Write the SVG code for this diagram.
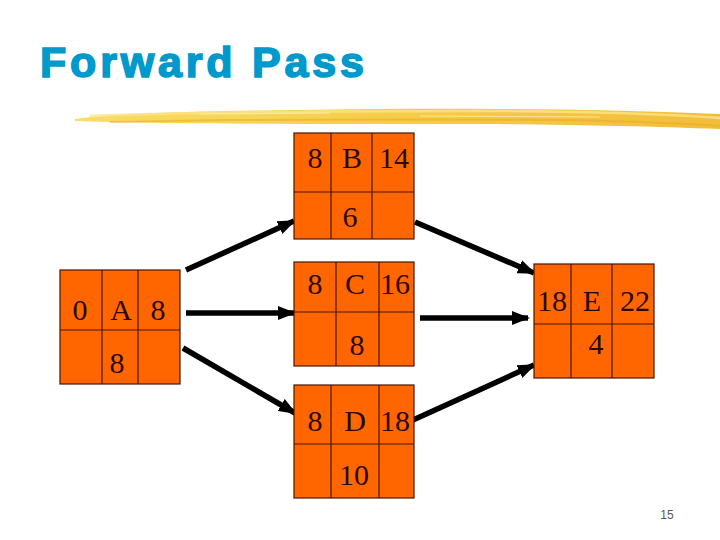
<svg xmlns="http://www.w3.org/2000/svg" width="720" height="540" viewBox="0 0 720 540">
<style>
.cell{fill:#FF6600;stroke:#4a1500;stroke-width:1.2}
.div{stroke:#4a1500;stroke-width:1.2}
.t{font-family:"Liberation Serif","Times New Roman",serif;font-size:30px;fill:#2a0800;text-anchor:middle}
.ar{stroke:#000;stroke-width:5.5;fill:none;marker-end:url(#ah)}
</style>
<defs>
<marker id="ah" markerUnits="userSpaceOnUse" viewBox="0 0 18 14" refX="16" refY="7" markerWidth="18" markerHeight="14" orient="auto">
<path d="M0,0 L18,7 L0,14 Z" fill="#000"/>
</marker>
<linearGradient id="yg" x1="0" y1="0" x2="1" y2="0">
<stop offset="0" stop-color="#F8DA5A"/>
<stop offset="0.5" stop-color="#F5C838"/>
<stop offset="1" stop-color="#F0B82A"/>
</linearGradient>
</defs>
<rect width="720" height="540" fill="#fff"/>
<text x="40" y="77" font-family="Liberation Sans,Arial,sans-serif" font-weight="bold" font-size="43" fill="#0099CC" stroke="#0099CC" stroke-width="1.6" textLength="324" lengthAdjust="spacing">Forward Pass</text>
<g id="brush">
<path d="M75,119 C120,113 200,111 300,110 C420,108 560,108 720,114 L720,129 C640,126 560,124 450,124 C300,124 150,124 75,121 Z" fill="url(#yg)" opacity="0.92"/>
<path d="M90,116 C200,112 350,111 500,111 C600,112 680,115 720,118" stroke="#FBE58A" stroke-width="2.5" fill="none" opacity="0.8"/>
<path d="M110,122 C250,119 400,119 550,120 C630,121 690,124 720,126" stroke="#E8A820" stroke-width="2" fill="none" opacity="0.5"/>
<path d="M200,114 L330,113 M420,116 L600,117" stroke="#FFF3B0" stroke-width="1.2" fill="none" opacity="0.7"/>
</g>
<g id="connectors">
<line class="ar" x1="186" y1="270" x2="294" y2="221"/>
<line class="ar" x1="186" y1="313" x2="294" y2="313"/>
<line class="ar" x1="183" y1="348" x2="295" y2="413"/>
<line class="ar" x1="415" y1="222" x2="534" y2="273"/>
<line class="ar" x1="420" y1="318" x2="528" y2="318"/>
<line class="ar" x1="413" y1="420" x2="534" y2="365"/>
</g>
<g id="nodeA">
<rect class="cell" x="60" y="270" width="120" height="114"/>
<line class="div" x1="102" y1="270" x2="102" y2="384"/>
<line class="div" x1="138" y1="270" x2="138" y2="384"/>
<line class="div" x1="60" y1="330" x2="180" y2="330"/>
<text class="t" x="80" y="320">0</text>
<text class="t" x="121" y="320">A</text>
<text class="t" x="158" y="320">8</text>
<text class="t" x="117" y="373">8</text>
</g>
<g id="nodeB">
<rect class="cell" x="294" y="133" width="120" height="106"/>
<line class="div" x1="331" y1="133" x2="331" y2="239"/>
<line class="div" x1="372" y1="133" x2="372" y2="239"/>
<line class="div" x1="294" y1="192" x2="414" y2="192"/>
<text class="t" x="315" y="168">8</text>
<text class="t" x="352" y="168">B</text>
<text class="t" x="394" y="168">14</text>
<text class="t" x="350" y="227">6</text>
</g>
<g id="nodeC">
<rect class="cell" x="294" y="262" width="120" height="104"/>
<line class="div" x1="336" y1="262" x2="336" y2="366"/>
<line class="div" x1="379" y1="262" x2="379" y2="366"/>
<line class="div" x1="294" y1="312" x2="414" y2="312"/>
<text class="t" x="315" y="294">8</text>
<text class="t" x="355" y="294">C</text>
<text class="t" x="395" y="294">16</text>
<text class="t" x="357" y="355">8</text>
</g>
<g id="nodeD">
<rect class="cell" x="294" y="385" width="120" height="113"/>
<line class="div" x1="331" y1="385" x2="331" y2="498"/>
<line class="div" x1="379" y1="385" x2="379" y2="498"/>
<line class="div" x1="294" y1="444" x2="414" y2="444"/>
<text class="t" x="315" y="431">8</text>
<text class="t" x="355" y="431">D</text>
<text class="t" x="395" y="431">18</text>
<text class="t" x="354" y="485">10</text>
</g>
<g id="nodeE">
<rect class="cell" x="534" y="264" width="120" height="114"/>
<line class="div" x1="571" y1="264" x2="571" y2="378"/>
<line class="div" x1="612" y1="264" x2="612" y2="378"/>
<line class="div" x1="534" y1="324" x2="654" y2="324"/>
<text class="t" x="552" y="311">18</text>
<text class="t" x="592" y="311">E</text>
<text class="t" x="635" y="311">22</text>
<text class="t" x="596" y="354">4</text>
</g>
<text x="667" y="519" font-family="Liberation Sans,Arial,sans-serif" font-size="12" fill="#555" text-anchor="middle">15</text>
</svg>
